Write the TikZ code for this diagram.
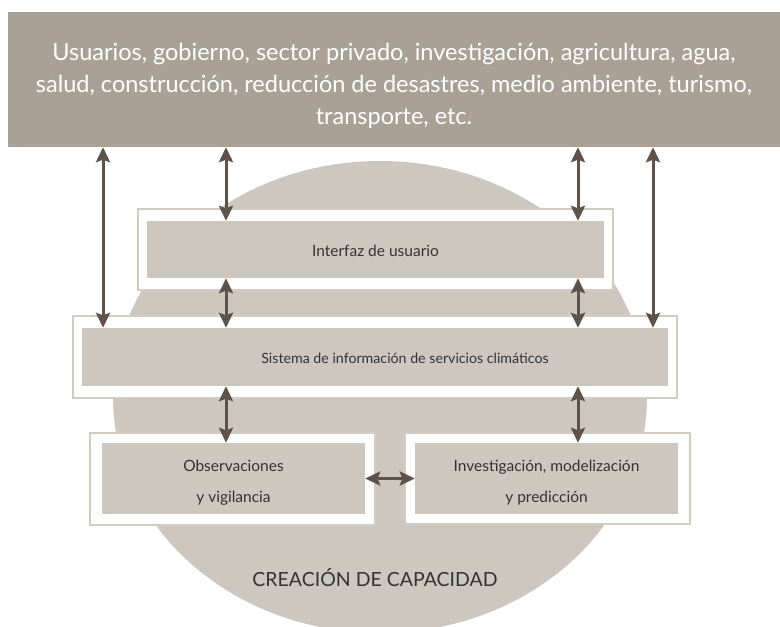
\documentclass[tikz,border=0pt]{standalone}
\usepackage{fontspec}
\setmainfont{Lato}
\usetikzlibrary{arrows.meta}
\definecolor{bannerc}{HTML}{AAA196}
\definecolor{pale}{HTML}{CDC7C0}
\definecolor{edgec}{HTML}{D2CCC5}
\definecolor{arrowc}{HTML}{5E534A}
\definecolor{txt}{HTML}{333333}
\begin{document}
\begin{tikzpicture}[x=1pt,y=-1pt,
 bannerbox/.style={fill=bannerc, draw=none, inner sep=0pt, minimum width=772pt, minimum height=135pt},
 bannertext/.style={text=white, align=center, inner sep=0pt, font=\fontsize{23.5}{32}\selectfont},
 framebox/.style={fill=white, draw=edgec, line width=1.8pt, inner sep=0pt},
 innerbox/.style={fill=pale, draw=none, inner sep=0pt},
 boxlabel/.style={text=txt, align=center, inner sep=0pt, font=\fontsize{15.5}{31}\selectfont},
 arr/.style={draw=arrowc, line width=3pt, {Stealth[length=15pt,width=14pt,inset=2.5pt]}-{Stealth[length=15pt,width=14pt,inset=2.5pt]}},
 bigtext/.style={text=txt, inner sep=0pt, font=\fontsize{19.5}{22}\selectfont}
]
\useasboundingbox (0,0) rectangle (780,627);
\clip (0,0) rectangle (780,627);
% capacity ellipse
\fill[pale] (380,397) ellipse [x radius=267pt, y radius=236pt];
% banner
\node[bannerbox] (banner) at (394,79.5) {};
\node[bannertext] (bantext) at (394,86) {Usuarios, gobierno, sector privado, investigación, agricultura, agua,\\salud, construcción, reducción de desastres, medio ambiente, turismo,\\transporte, etc.};
% frames
\node[framebox, minimum width=475pt, minimum height=81pt] (intF) at (375.5,249.5) {};
\node[framebox, minimum width=604pt, minimum height=82pt] (sisF) at (375,357) {};
\node[framebox, minimum width=285pt, minimum height=92pt] (obsF) at (232.5,479) {};
\node[framebox, minimum width=285pt, minimum height=91pt] (invF) at (547.5,478.5) {};
% inner boxes
\node[innerbox, minimum width=457pt, minimum height=57pt] (intI) at (375.5,249.5) {};
\node[innerbox, minimum width=586pt, minimum height=58pt] (sisI) at (375,357) {};
\node[innerbox, minimum width=263pt, minimum height=71pt] (obsI) at (233.5,478.5) {};
\node[innerbox, minimum width=263pt, minimum height=71pt] (invI) at (546.5,478.5) {};
% labels
\node[boxlabel] (intL) at (375.5,251) {Interfaz de usuario};
\node[boxlabel, font=\fontsize{14.2}{20}\selectfont] (sisL) at (405,358) {Sistema de información de servicios climáticos};
\node[boxlabel] (obsL) at (233.5,483) {Observaciones\\y vigilancia};
\node[boxlabel] (invL) at (546.5,483) {Investigación, modelización\\y predicción};
% arrow columns
\coordinate (xa) at (103,0);
\coordinate (xb) at (226,0);
\coordinate (xc) at (578,0);
\coordinate (xd) at (653,0);
\draw[arr] (banner.south -| xa) -- (sisI.north -| xa);
\draw[arr] (banner.south -| xb) -- (intI.north -| xb);
\draw[arr] (banner.south -| xc) -- (intI.north -| xc);
\draw[arr] (banner.south -| xd) -- (sisI.north -| xd);
\draw[arr] (intI.south -| xb) -- (sisI.north -| xb);
\draw[arr] (intI.south -| xc) -- (sisI.north -| xc);
\draw[arr] (sisI.south -| xb) -- (obsI.north -| xb);
\draw[arr] (sisI.south -| xc) -- (invI.north -| xc);
\draw[arr] (obsI.east) -- (invI.west);
% label
\node[bigtext] (cap) at (375,578) {CREACIÓN DE CAPACIDAD};
\end{tikzpicture}
\end{document}
